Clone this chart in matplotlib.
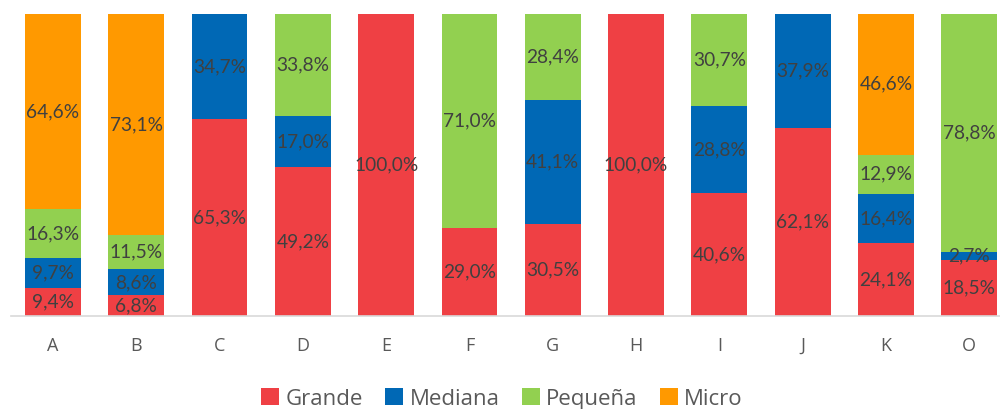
import matplotlib.pyplot as plt
import numpy as np

categories = ["A", "B", "C", "D", "E", "F", "G", "H", "I", "J", "K", "O"]
grande = [9.4, 6.8, 65.3, 49.2, 100.0, 29.0, 30.5, 100.0, 40.6, 62.1, 24.1, 18.5]
mediana = [9.7, 8.6, 34.7, 17.0, 0, 0, 41.1, 0, 28.8, 37.9, 16.4, 2.7]
pequena = [16.3, 11.5, 0, 33.8, 0, 71.0, 28.4, 0, 30.7, 0, 12.9, 78.8]
micro = [64.6, 73.1, 0, 0, 0, 0, 0, 0, 0, 0, 46.6, 0]

series = [("Grande", grande, "#EF4044"),
          ("Mediana", mediana, "#0068B5"),
          ("Pequeña", pequena, "#92D050"),
          ("Micro", micro, "#FF9900")]


def main():
    fig = plt.figure(figsize=(10, 4.09), dpi=100)
    ax = fig.add_axes([0.011, 1 - 316 / 409, 0.989, (316 - 14) / 409])

    x = np.arange(len(categories))
    bottom = np.zeros(len(categories))
    handles = []
    for name, vals, col in series:
        vals = np.array(vals, dtype=float)
        b = ax.bar(x, vals, 0.67, bottom=bottom, color=col, label=name,
                   edgecolor="none")
        handles.append(b)
        for xi, v, b0 in zip(x, vals, bottom):
            if v > 0:
                txt = ("%.1f%%" % v).replace(".", ",")
                ax.text(xi, b0 + v / 2, txt, ha="center", va="center",
                        fontsize=13.8, color="#404040", family="Lato")
        bottom += vals

    ax.set_xlim(-0.504, 11.37)
    ax.set_ylim(0, 100)
    ax.set_yticks([])
    ax.set_xticks(x)
    ax.set_xticklabels(categories, fontsize=13, color="#595959",
                       family="Open Sans")
    ax.tick_params(axis="x", length=0, pad=15)
    for s in ["top", "right", "left"]:
        ax.spines[s].set_visible(False)
    ax.spines["bottom"].set_color("#D9D9D9")
    ax.spines["bottom"].set_linewidth(1.2)

    fig.legend(handles=handles, loc="center", bbox_to_anchor=(0.502, 1 - 399 / 409),
               ncol=4, frameon=False, handlelength=0.8, handleheight=0.8,
               handletextpad=0.3, columnspacing=1.0,
               prop={"family": "Open Sans", "size": 16}, labelcolor="#595959")

    fig.savefig("out.png", dpi=100)


if __name__ == '__main__':
    main()
